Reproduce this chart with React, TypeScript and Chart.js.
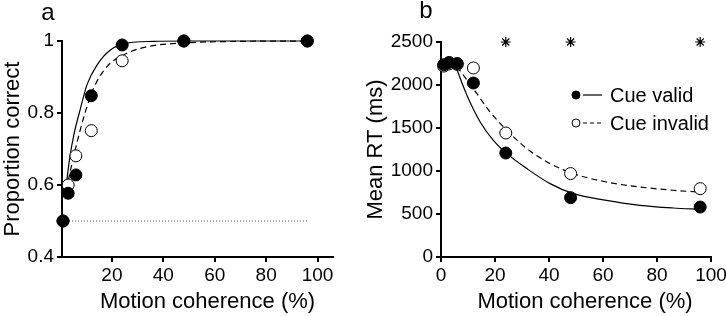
import React, { useEffect, useRef } from "react";
import { Chart, registerables } from "chart.js";
Chart.register(...registerables);

const FONT = "'Liberation Sans', Arial, Helvetica, sans-serif";

// ---------- Panel a: proportion correct ----------
const cohA = [1, 3, 6, 12, 24, 48, 96];
const pcValid = [0.5, 0.577, 0.628, 0.848, 0.989, 1.0, 1.0];
const pcInvalid = [0.5, 0.6, 0.681, 0.751, 0.945, 1.0, 1.0];
const fitAValidX = [2, 3.5, 5.2, 7.8, 10.3, 14.2, 19.4, 25.9, 36, 50, 96];
const fitAValidY = [0.585, 0.67, 0.739, 0.813, 0.878, 0.933, 0.975, 0.994, 0.999, 1.0, 1.0];
const fitAInvalidX = [2.2, 4.5, 6.5, 9.7, 12.9, 18.1, 25.9, 33.6, 46.5, 70, 96];
const fitAInvalidY = [0.585, 0.66, 0.72, 0.804, 0.869, 0.929, 0.966, 0.984, 0.994, 0.999, 1.0];
const chanceX = [1, 96];
const chanceY = [0.5, 0.5];
const ticksAX = [20, 40, 60, 80, 100];
const ticksAY = [0.4, 0.6, 0.8, 1];

// ---------- Panel b: mean RT ----------
const cohB = [1, 3, 6, 12, 24, 48, 96];
const rtValid = [2235, 2262, 2250, 2023, 1209, 690, 581];
const rtInvalid = [2220, 2245, 2240, 2198, 1442, 970, 795];
const fitBValidX = [5.3, 9.6, 14.5, 19.4, 24.4, 31.8, 40.4, 49, 61.3, 73.7, 86, 96];
const fitBValidY = [2229, 1880, 1570, 1357, 1202, 1028, 853, 737, 659, 601, 570, 555];
const fitBInvalidX = [5.9, 12, 18.2, 24.4, 31.8, 40.4, 49, 61.3, 73.7, 86, 95];
const fitBInvalidY = [2215, 1958, 1686, 1473, 1260, 1086, 970, 872, 814, 776, 756];
const sigX = [24, 48, 96];
const sigY = [2500, 2500, 2500];
const ticksBX = [0, 20, 40, 60, 80, 100];
const ticksBY = [0, 500, 1000, 1500, 2000, 2500];

const seriesNames = ["Cue valid", "Cue invalid"];
const xTitle = "Motion coherence (%)";

const pts = (xs: number[], ys: number[]) => xs.map((x, i) => ({ x, y: ys[i] }));

function scaleX(min: number, max: number, ticks: number[]) {
  return {
    type: "linear" as const,
    min,
    max,
    afterBuildTicks: (s: any) => {
      s.ticks = ticks.map((v) => ({ value: v }));
    },
    afterFit: (s: any) => {
      s.height = 59;
      s.paddingLeft = 0;
      s.paddingRight = 0;
    },
    border: { display: true, color: "#000", width: 2 },
    grid: { drawOnChartArea: false, drawTicks: true, tickLength: 5, color: "#000", lineWidth: 2 },
    ticks: {
      font: { size: 19, family: FONT },
      color: "#000",
      padding: 2,
      maxRotation: 0,
      autoSkip: false,
      callback: (v: any) => String(v),
    },
    title: { display: false },
  };
}

function scaleY(min: number, max: number, ticks: number[], title: string, width: number) {
  return {
    type: "linear" as const,
    min,
    max,
    afterBuildTicks: (s: any) => {
      s.ticks = ticks.map((v) => ({ value: v }));
    },
    afterFit: (s: any) => {
      s.width = width;
      s.paddingTop = 0;
      s.paddingBottom = 0;
    },
    border: { display: true, color: "#000", width: 2 },
    grid: { drawOnChartArea: false, drawTicks: true, tickLength: 5, color: "#000", lineWidth: 2 },
    ticks: {
      font: { size: 19, family: FONT },
      color: "#000",
      padding: 3,
      autoSkip: false,
      callback: (v: any) => String(v),
    },
    title: { display: true, text: title, font: { size: 22, family: FONT }, color: "#000", padding: 0 },
  };
}

const panelLabel = (text: string, dx: number, baseline: number) => ({
  id: "panelLabel" + text,
  afterDraw(chart: any) {
    const ctx = chart.ctx;
    ctx.save();
    ctx.font = `24px ${FONT}`;
    ctx.fillStyle = "#000";
    ctx.textAlign = "center";
    ctx.textBaseline = "alphabetic";
    ctx.fillText(text, chart.chartArea.left + dx, baseline);
    ctx.restore();
  },
});

const xTitlePlugin = (dx: number) => ({
  id: "xTitle",
  afterDraw(chart: any) {
    const ctx = chart.ctx;
    const { left, right } = chart.chartArea;
    ctx.save();
    ctx.font = `22px ${FONT}`;
    ctx.fillStyle = "#000";
    ctx.textAlign = "center";
    ctx.textBaseline = "middle";
    ctx.fillText(xTitle, (left + right) / 2 + dx, chart.height - 14);
    ctx.restore();
  },
});

const legendPlugin = {
  id: "customLegend",
  afterDraw(chart: any) {
    const ctx = chart.ctx;
    const { left, top } = chart.chartArea;
    const x0 = left + 135;
    const rows = [top + 53, top + 81];
    ctx.save();
    ctx.font = `20px ${FONT}`;
    ctx.textBaseline = "middle";
    ctx.textAlign = "left";
    rows.forEach((y, i) => {
      ctx.beginPath();
      ctx.arc(x0, y, 4, 0, Math.PI * 2);
      ctx.fillStyle = i === 0 ? "#000" : "#fff";
      ctx.fill();
      ctx.lineWidth = 1;
      ctx.strokeStyle = "#000";
      ctx.stroke();
      ctx.beginPath();
      ctx.setLineDash(i === 0 ? [] : [4, 3]);
      ctx.moveTo(x0 + 7, y);
      ctx.lineTo(x0 + 26, y);
      ctx.lineWidth = 1.2;
      ctx.stroke();
      ctx.setLineDash([]);
      ctx.fillStyle = "#000";
      ctx.fillText(seriesNames[i], x0 + 34, y + 1);
    });
    ctx.restore();
  },
};

const pointSet = (label: string, data: any[], filled: boolean) => ({
  type: "scatter" as const,
  label,
  data,
  showLine: false,
  pointRadius: 6,
  pointBorderWidth: 1,
  pointBackgroundColor: filled ? "#000" : "#fff",
  pointBorderColor: "#000",
  clip: false as any,
});

const lineSet = (label: string, data: any[], dash: number[], color = "#000", width = 1.2) => ({
  type: "line" as const,
  label,
  data,
  showLine: true,
  pointRadius: 0,
  borderColor: color,
  borderWidth: width,
  borderDash: dash,
  cubicInterpolationMode: "monotone" as const,
  fill: false,
  clip: false as any,
});

export default function App() {
  const refA = useRef<HTMLCanvasElement>(null);
  const refB = useRef<HTMLCanvasElement>(null);

  useEffect(() => {
    const common = {
      responsive: false,
      animation: false as const,
      events: [] as any[],
      plugins: { legend: { display: false }, tooltip: { enabled: false } },
    };

    const chartA = new Chart(refA.current!, {
      type: "scatter",
      data: {
        datasets: [
          pointSet(seriesNames[0], pts(cohA, pcValid), true),
          pointSet(seriesNames[1], pts(cohA, pcInvalid), false),
          lineSet("fit valid", pts(fitAValidX, fitAValidY), []),
          lineSet("fit invalid", pts(fitAInvalidX, fitAInvalidY), [6, 4]),
          lineSet("chance", pts(chanceX, chanceY), [1, 2], "#555", 1),
        ] as any,
      },
      options: {
        ...common,
        layout: { padding: { top: 41, right: 30, left: 0, bottom: 0 } },
        scales: {
          x: scaleX(0.6, 106, ticksAX),
          y: scaleY(0.4, 1, ticksAY, "Proportion correct", 62),
        },
      } as any,
      plugins: [panelLabel("a", -14, 20), xTitlePlugin(10)],
    });

    const chartB = new Chart(refB.current!, {
      type: "scatter",
      data: {
        datasets: [
          pointSet(seriesNames[0], pts(cohB, rtValid), true),
          pointSet(seriesNames[1], pts(cohB, rtInvalid), false),
          lineSet("fit valid", pts(fitBValidX, fitBValidY), []),
          lineSet("fit invalid", pts(fitBInvalidX, fitBInvalidY), [6, 4]),
          {
            type: "scatter",
            label: "significant",
            data: pts(sigX, sigY),
            showLine: false,
            pointStyle: "star",
            pointRadius: 5,
            pointBorderWidth: 1.2,
            pointBorderColor: "#000",
            clip: false,
          },
        ] as any,
      },
      options: {
        ...common,
        layout: { padding: { top: 42, right: 15, left: 0, bottom: 0 } },
        scales: {
          x: scaleX(0, 100, ticksBX),
          y: scaleY(0, 2500, ticksBY, "Mean RT (ms)", 78),
        },
      } as any,
      plugins: [panelLabel("b", -15, 18), legendPlugin, xTitlePlugin(9)],
    });

    return () => {
      chartA.destroy();
      chartB.destroy();
    };
  }, []);

  return (
    <div style={{ position: "absolute", left: 0, top: 0, width: 726, height: 316, background: "#fff" }}>
      <canvas ref={refA} width={363} height={316} style={{ position: "absolute", left: 0, top: 0, width: 363, height: 316 }} />
      <canvas ref={refB} width={363} height={316} style={{ position: "absolute", left: 363, top: 0, width: 363, height: 316 }} />
    </div>
  );
}
